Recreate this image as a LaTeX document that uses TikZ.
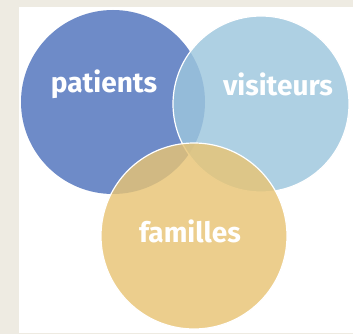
\documentclass[tikz,border=0pt]{standalone}
\usepackage{fontspec}
\setmainfont{Fira Sans}
\begin{document}
\begin{tikzpicture}[x=1pt,y=-1pt,
  bubble/.style={draw=white, line width=1.2pt, fill opacity=0.82},
  lbl/.style={text=white, font=\fontsize{28}{32}\selectfont\bfseries}]
\definecolor{bgbeige}{HTML}{EEEBE2}
\definecolor{cpat}{HTML}{6E8BC8}
\definecolor{cvis}{HTML}{9DC6DD}
\definecolor{cfam}{HTML}{E8C474}
\useasboundingbox (0,0) rectangle (353,334);
\fill[bgbeige] (0,0) rectangle (353,334);
\fill[white] (19,7) rectangle (353,333);
\fill[cpat] (113,102) circle (92);
\fill[cvis, bubble] (261,104) circle (88);
\fill[cfam, bubble] (194,236) circle (93);
\node[lbl] (patients) at (104,84) {patients};
\node[lbl] (visiteurs) at (278,84) {visiteurs};
\node[lbl] (familles) at (190,231) {familles};
\end{tikzpicture}
\end{document}
